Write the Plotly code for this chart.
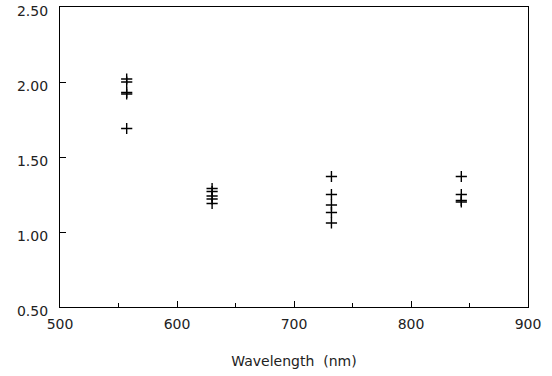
import plotly.graph_objects as go

# Data
wavelength_nm = [557, 557, 557, 557, 557,
                 630, 630, 630, 630, 630,
                 732, 732, 732, 732, 732,
                 843, 843, 843, 843]
values = [2.02, 2.00, 1.93, 1.92, 1.69,
          1.29, 1.27, 1.24, 1.22, 1.19,
          1.37, 1.25, 1.18, 1.13, 1.06,
          1.37, 1.25, 1.21, 1.20]

x_ticks = [500, 600, 700, 800, 900]
y_ticks = [0.5, 1.0, 1.5, 2.0, 2.5]

fig = go.Figure()
fig.add_trace(go.Scatter(
    x=wavelength_nm, y=values, mode="markers",
    marker=dict(symbol="cross-thin", size=8, color="black",
                line=dict(color="black", width=1.4)),
    showlegend=False, cliponaxis=False,
))

font = dict(family="DejaVu Sans", size=14, color="#222")
fig.update_layout(
    width=552, height=376,
    margin=dict(l=60, r=24, t=7, b=69, autoexpand=False),
    paper_bgcolor="white", plot_bgcolor="white",
    font=font,
)
fig.update_xaxes(
    range=[500, 900.001], tickvals=x_ticks, showgrid=False, zeroline=False,
    showline=True, linecolor="black", linewidth=1.2, mirror=True,
    ticks="inside", ticklen=6, tickcolor="black", tickwidth=1,
    minor=dict(dtick=50, ticks="inside", ticklen=4, tickcolor="black", showgrid=False),
    title=dict(text="Wavelength  (nm)", font=dict(family="DejaVu Sans", size=14, color="#222"), standoff=25),
    tickfont=font, automargin=False, ticklabeloverflow="allow", ticklabelstandoff=4,
)
fig.update_yaxes(
    range=[0.5, 2.5001], tickvals=y_ticks, tickformat=".2f", showgrid=False, zeroline=False,
    showline=True, linecolor="black", linewidth=1.2, mirror=True,
    ticks="inside", ticklen=6, tickcolor="black", tickwidth=1,
    tickfont=font, automargin=False, ticklabeloverflow="allow",
    ticklabelstandoff=8, ticklabelshift=4,
)
fig.write_html("out.html", config={"displayModeBar": False},
               post_script="document.body.style.margin='0';")
